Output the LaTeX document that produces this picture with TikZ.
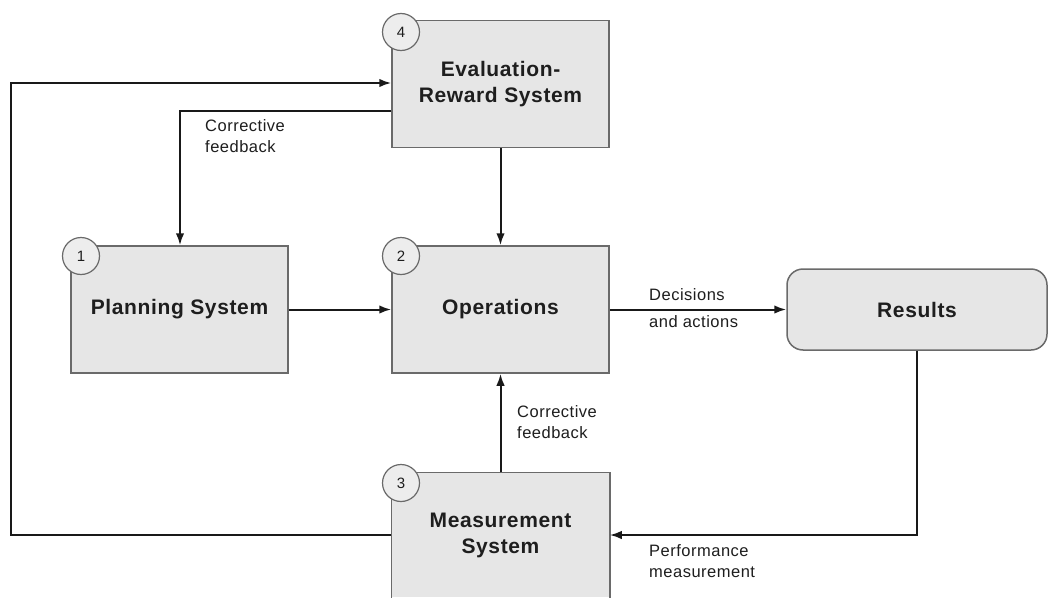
\documentclass[tikz,border=0pt]{standalone}
\usepackage{fontspec}
\setmainfont{Liberation Sans}
\newfontfamily\spacedfont[LetterSpace=3]{Liberation Sans}
\usetikzlibrary{arrows.meta}
\definecolor{boxfill}{HTML}{E6E6E6}
\definecolor{boxline}{HTML}{6A6A6A}
\definecolor{txt}{HTML}{1E1E1E}
\begin{document}
\begin{tikzpicture}[x=1pt,y=-1pt,
  block/.style={fill=boxfill,draw=boxline,line width=1.5pt,minimum width=217pt,minimum height=127pt,inner sep=0pt,align=center,
     font=\spacedfont\fontsize{21}{26}\selectfont\bfseries,text=txt},
  numc/.style={circle,fill=boxfill!70!white,draw=boxline,line width=1.2pt,minimum size=37pt,inner sep=0pt,font=\fontsize{15}{15}\selectfont,text=txt},
  lbl/.style={align=left,anchor=north west,inner sep=0pt,font=\spacedfont\fontsize{16.5}{21.5}\selectfont,text=txt},
  conn/.style={line width=2pt,draw=black!90,-{Latex[length=12pt,width=8.5pt]}}]
\useasboundingbox (0,0) rectangle (1049,597);
\fill[white] (0,0) rectangle (1049,597);

% boxes
\node[block] (eval) at (500.5,84) {Evaluation-\\Reward System};
\node[block] (plan) at (179.5,309.5) {Planning System};
\node[block] (ops) at (500.5,309.5) {Operations};
\node[block,draw=none,minimum height=124pt] (meas) at (500.5,535) {Measurement\\System};
\draw[boxline,line width=1.5pt] (meas.south west) -- (meas.north west) -- (meas.north east) -- (meas.south east);
\node[block,rounded corners=16pt,minimum width=260pt,minimum height=81pt] (res) at (917,309.5) {Results};

% number circles
\node[numc] (n4) at (401,32) {4};
\node[numc] (n1) at (81,256) {1};
\node[numc] (n2) at (401,256) {2};
\node[numc] (n3) at (401,483) {3};

% connectors
\coordinate (lt) at (11,83);
\coordinate (lb) at (11,535);
\draw[conn] (meas.west) -- (lb) -- (lt) -- (eval.west |- lt);

\coordinate (cfa) at (180,111);
\draw[conn] (eval.west |- cfa) -- (cfa) -- (plan.north -| cfa);

\draw[conn] (eval.south) -- (ops.north);
\draw[conn] (plan.east) -- (ops.west);
\draw[conn] (ops.east) -- (res.west);
\draw[conn] (meas.north) -- (ops.south);

\coordinate (rb) at (res.south |- meas.west);
\draw[conn] (res.south) -- (rb) -- (meas.east);

% labels
\node[lbl] (l1) at (205,119) {Corrective\\feedback};
\node[lbl] (l2) at (649,288) {Decisions};
\node[lbl] (l3) at (649,315) {and actions};
\node[lbl] (l4) at (517,405) {Corrective\\feedback};
\node[lbl] (l5) at (649,544) {Performance\\measurement};
\end{tikzpicture}
\end{document}
